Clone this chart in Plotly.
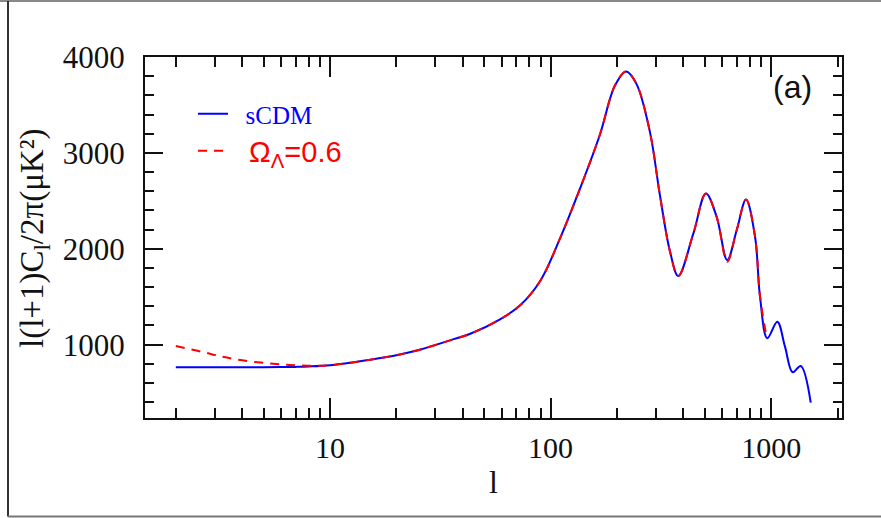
import plotly.graph_objects as go

# Angular power spectrum, l(l+1)C_l/2pi in microK^2
ell_scdm = [2, 3, 4, 5, 6, 7, 8, 10, 15, 20, 26, 35, 43, 59, 73, 90, 110, 136, 167,
            196, 220, 245, 282, 313, 348, 379, 444, 506, 566, 632, 698, 769, 845,
            890, 960, 1066, 1155, 1251, 1361, 1511]
cl_scdm = [765, 765, 765, 765, 766, 768, 772, 785, 841, 890, 952, 1045, 1111, 1264, 1413,
           1670, 2100, 2629, 3184, 3705, 3850, 3720, 3219, 2559, 1969, 1716, 2160, 2577,
           2333, 1882, 2195, 2514, 2125, 1500, 1067, 1240, 979, 712, 778, 396]

ell_lambda = [2, 2.6, 3.2, 4, 5.2, 6.5, 8, 10, 15, 20, 26, 35, 43, 59, 73, 90, 110, 136, 167,
              196, 220, 245, 282, 313, 348, 379, 444, 506, 566, 632, 698, 769, 845,
              890, 955]
cl_lambda = [985, 928, 877, 837, 806, 789, 781, 785, 841, 890, 952, 1045, 1111, 1264, 1413,
             1670, 2100, 2629, 3184, 3705, 3850, 3720, 3219, 2559, 1969, 1716, 2160, 2577,
             2333, 1865, 2195, 2514, 2125, 1500, 1070]

x_major = [10, 100, 1000]
x_major_text = ["10", "100", "1000"]
x_minor = [2, 3, 4, 5, 6, 7, 8, 9, 20, 30, 40, 50, 60, 70, 80, 90,
           200, 300, 400, 500, 600, 700, 800, 900, 2000]
y_major = [1000, 2000, 3000, 4000]
y_major_text = ["1000", "2000", "3000", "4000"]
y_minor = [v for v in range(400, 4000, 200) if v % 1000]

SERIF = "Liberation Serif, Times New Roman, serif"
SANS = "Liberation Sans, Arial, sans-serif"

fig = go.Figure()
fig.add_trace(go.Scatter(
    x=ell_scdm, y=cl_scdm, mode="lines", line_shape="spline",
    line=dict(color="#0000ff", width=2),
    legend="legend", name="&nbsp;&nbsp;sCDM"))
fig.add_trace(go.Scatter(
    x=ell_lambda, y=cl_lambda, mode="lines", line_shape="spline",
    line=dict(color="#ff0000", width=2, dash="9px,7px"),
    legend="legend2", name="&nbsp;&nbsp;Ω<sub>Λ</sub>=0.6"))

axis_common = dict(
    showgrid=False, zeroline=False, showline=True, linecolor="#111", linewidth=2,
    ticks="inside", tickcolor="#111", tickwidth=2, mirror="allticks",
)

fig.update_xaxes(
    type="log", range=[0.1614, 3.321],
    tickvals=x_major, ticktext=x_major_text, ticklen=20,
    tickfont=dict(family=SERIF, size=30, color="#111"),
    minor=dict(tickvals=x_minor, ticks="inside", ticklen=10, tickwidth=2,
               tickcolor="#111", showgrid=False),
    ticklabelstandoff=2,
    title=dict(text="l", font=dict(family=SERIF, size=32, color="#111"), standoff=8),
    **axis_common)
fig.update_yaxes(
    range=[235, 4000],
    tickvals=y_major, ticktext=y_major_text, ticklen=18,
    tickfont=dict(family=SERIF, size=31, color="#111"),
    minor=dict(tickvals=y_minor, ticks="inside", ticklen=9, tickwidth=2,
               tickcolor="#111", showgrid=False),
    ticklabelstandoff=12,
    **axis_common)

# outer frame around the figure (top, left, bottom)
W, H = 881, 518
ml, mr, mt, mb = 145, 39, 57, 100
pw, ph = W - ml - mr, H - mt - mb
def px(x):
    return (x - ml) / pw
def py(y):
    return (H - mb - y) / ph
frame = [
    dict(x0=px(0), x1=px(W), y0=py(1), y1=py(1), color="#888"),
    dict(x0=px(8), x1=px(8), y0=py(1), y1=py(516.5), color="#333"),
    dict(x0=px(8), x1=px(W), y0=py(516.5), y1=py(516.5), color="#777"),
]
for f in frame:
    fig.add_shape(type="line", xref="paper", yref="paper",
                  x0=f["x0"], x1=f["x1"], y0=f["y0"], y1=f["y1"],
                  line=dict(color=f["color"], width=2))

# vertical axis title
fig.add_annotation(text="l(l+1)C<sub>l</sub>/2π(μK²)", xref="paper", yref="paper",
                   x=px(34), y=py(238), xanchor="center", yanchor="middle",
                   textangle=-90, showarrow=False,
                   font=dict(family=SERIF, size=33, color="#111"))

fig.add_annotation(text="(a)", xref="paper", yref="paper",
                   x=px(792), y=py(87), xanchor="center", yanchor="middle",
                   showarrow=False, font=dict(family=SANS, size=32, color="#111"))

fig.update_layout(
    width=W, height=H,
    margin=dict(l=ml, r=mr, t=mt, b=mb, autoexpand=False),
    paper_bgcolor="white", plot_bgcolor="white",
    showlegend=True,
    legend=dict(x=px(193), y=py(114), xanchor="left", yanchor="middle",
                bgcolor="rgba(0,0,0,0)", borderwidth=0,
                font=dict(family=SERIF, size=25, color="#0000ff")),
    legend2=dict(x=px(193), y=py(151), xanchor="left", yanchor="middle",
                 bgcolor="rgba(0,0,0,0)", borderwidth=0,
                 font=dict(family=SANS, size=29, color="#ff0000")),
)

fig.write_html("out.html")
